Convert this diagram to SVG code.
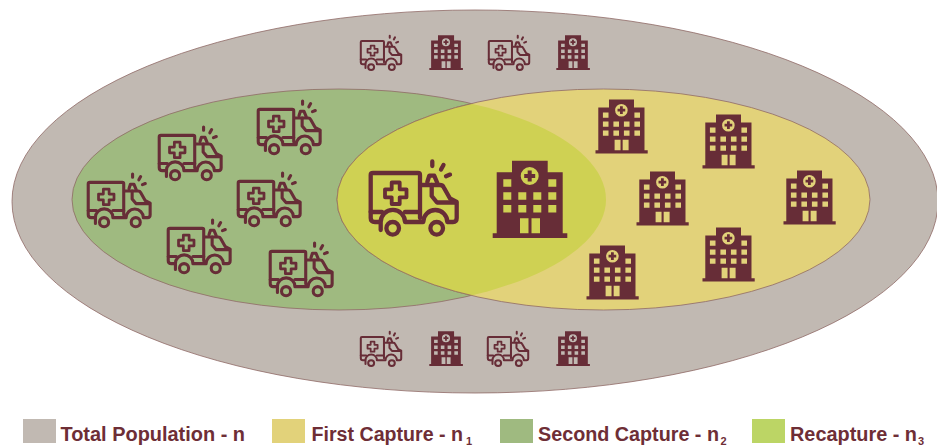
<svg xmlns="http://www.w3.org/2000/svg" width="937" height="446" viewBox="0 0 937 446">
<style>
.legend{font-family:"Liberation Sans",Arial,sans-serif;font-weight:700;font-size:20px;fill:#6e2e36}
.sub{font-size:11px}
.el{stroke:#8f6a66;stroke-width:.8}
.amb{fill:none;stroke:#672d37;stroke-width:4.300;stroke-linecap:round;stroke-linejoin:round}
.hos{fill:#672d37;fill-rule:evenodd}
</style>
<defs>
<symbol id="ambulance" viewBox="0 0 90 77" width="90" height="77" overflow="visible">
<g class="amb">
<path d="M1.700 51V15Q1.700 13 4 13H49Q51 13 51 15V58"/>
<path d="M1.700 52H13M36 52H51"/>
<path d="M1.700 52V58Q1.700 62 6 62H11.700M11.700 60V70M11.700 62A12 12 0 0 1 36 62H54.300A12 12 0 0 1 78.300 62H84Q87.700 62 87.700 58V42L81 38.500L74.500 27Q73.500 25 71 25H52.700"/>
<path d="M62.700 25V36L68 42.500H87"/>
<path d="M58.300 22L60.300 15.700H65.300L68.300 23"/>
<path d="M63.300 1.500V6M74.500 5L72 9.500M81 14.600L77 16.200"/>
<circle cx="23.700" cy="68.300" r="6.300"/>
<circle cx="67.700" cy="68.300" r="6.300"/>
<path d="M22.700 22.500H30.700V29.300H37.500V37.300H30.700V44H22.700V37.300H16V29.300H22.700Z" stroke-width="3.800"/>
</g>
</symbol>
<symbol id="hospital" viewBox="0 0 76 78" width="76" height="78" overflow="visible">
<path class="hos" d="M20 .7H55.700V12.300H70.700V73.300H75.300V78H.7V73.300H4.700V12.300H20Z
M37.700 7A9 9 0 1 0 37.700 25A9 9 0 1 0 37.700 7Z
M11.300 19.300h8v7.500h-8Z M56.300 19.300h8v7.500h-8Z
M11.300 32.300h8v7.500h-8Z M26.300 32.300h8v7.500h-8Z M41.300 32.300h8v7.500h-8Z M56.300 32.300h8v7.500h-8Z
M11.300 45h8v7.500h-8Z M26.300 45h8v7.500h-8Z M41.300 45h8v7.500h-8Z M56.300 45h8v7.500h-8Z
M28 58.300h8.500v15h-8.500Z M39.500 58.300h8.500v15h-8.500Z"/>
<path class="hos" d="M35.700 10.500h4v3.500h3.500v4h-3.500v3.500h-4v-3.500h-3.500v-4h3.500Z"/>
</symbol>
<clipPath id="greenClip"><ellipse cx="339" cy="199.500" rx="267" ry="110.500"/></clipPath>
</defs>

<g id="total-population"><ellipse class="el" cx="475" cy="201.500" rx="463" ry="191.500" fill="#c1b9b2"/></g>
<g id="second-capture"><ellipse class="el" cx="339" cy="199.500" rx="267" ry="110.500" fill="#9fba80"/></g>
<g id="first-capture"><ellipse class="el" cx="603.500" cy="199.500" rx="266.500" ry="110.500" fill="#e2d27a"/></g>
<g id="recapture"><ellipse class="el" cx="603.500" cy="199.500" rx="266.500" ry="110.500" fill="#cfd153" clip-path="url(#greenClip)"/></g>

<g id="icons-total">
<use href="#ambulance" transform="translate(360 35) scale(.47)"/>
<use href="#hospital" transform="translate(429 35) scale(.45)"/>
<use href="#ambulance" transform="translate(488 35) scale(.47)"/>
<use href="#hospital" transform="translate(556 35) scale(.45)"/>
<use href="#ambulance" transform="translate(360 331) scale(.47)"/>
<use href="#hospital" transform="translate(429 331) scale(.45)"/>
<use href="#ambulance" transform="translate(487 331) scale(.47)"/>
<use href="#hospital" transform="translate(556 331) scale(.45)"/>
</g>
<g id="icons-second">
<use href="#ambulance" transform="translate(87 173) scale(.72)"/>
<use href="#ambulance" transform="translate(158 126) scale(.72)"/>
<use href="#ambulance" transform="translate(257 100) scale(.72)"/>
<use href="#ambulance" transform="translate(237 172) scale(.72)"/>
<use href="#ambulance" transform="translate(167 219) scale(.72)"/>
<use href="#ambulance" transform="translate(269 242) scale(.72)"/>
</g>
<g id="icons-recapture">
<use href="#ambulance" transform="translate(369 160)"/>
<use href="#hospital" transform="translate(492 160)"/>
</g>
<g id="icons-first">
<use href="#hospital" transform="translate(595 99) scale(.7)"/>
<use href="#hospital" transform="translate(702 114) scale(.7)"/>
<use href="#hospital" transform="translate(636 171) scale(.7)"/>
<use href="#hospital" transform="translate(783 170) scale(.7)"/>
<use href="#hospital" transform="translate(702 227) scale(.7)"/>
<use href="#hospital" transform="translate(586 245) scale(.7)"/>
</g>

<g id="legend">
<rect x="23" y="419" width="33" height="24" fill="#c1b9b2"/>
<text class="legend" x="60.500" y="441" textLength="184.500" lengthAdjust="spacingAndGlyphs">Total Population - n</text>
<rect x="272" y="419" width="33" height="24" fill="#e2d27a"/>
<text class="legend" x="311.500" y="441" textLength="151.500" lengthAdjust="spacingAndGlyphs">First Capture - n</text>
<text class="legend sub" x="466" y="445">1</text>
<rect x="500" y="419" width="33" height="24" fill="#9fba80"/>
<text class="legend" x="538" y="441" textLength="181" lengthAdjust="spacingAndGlyphs">Second Capture - n</text>
<text class="legend sub" x="720.500" y="445">2</text>
<rect x="752" y="419" width="33" height="24" fill="#bcd565"/>
<text class="legend" x="790" y="441" textLength="127" lengthAdjust="spacingAndGlyphs">Recapture - n</text>
<text class="legend sub" x="918" y="445">3</text>
</g>
</svg>
